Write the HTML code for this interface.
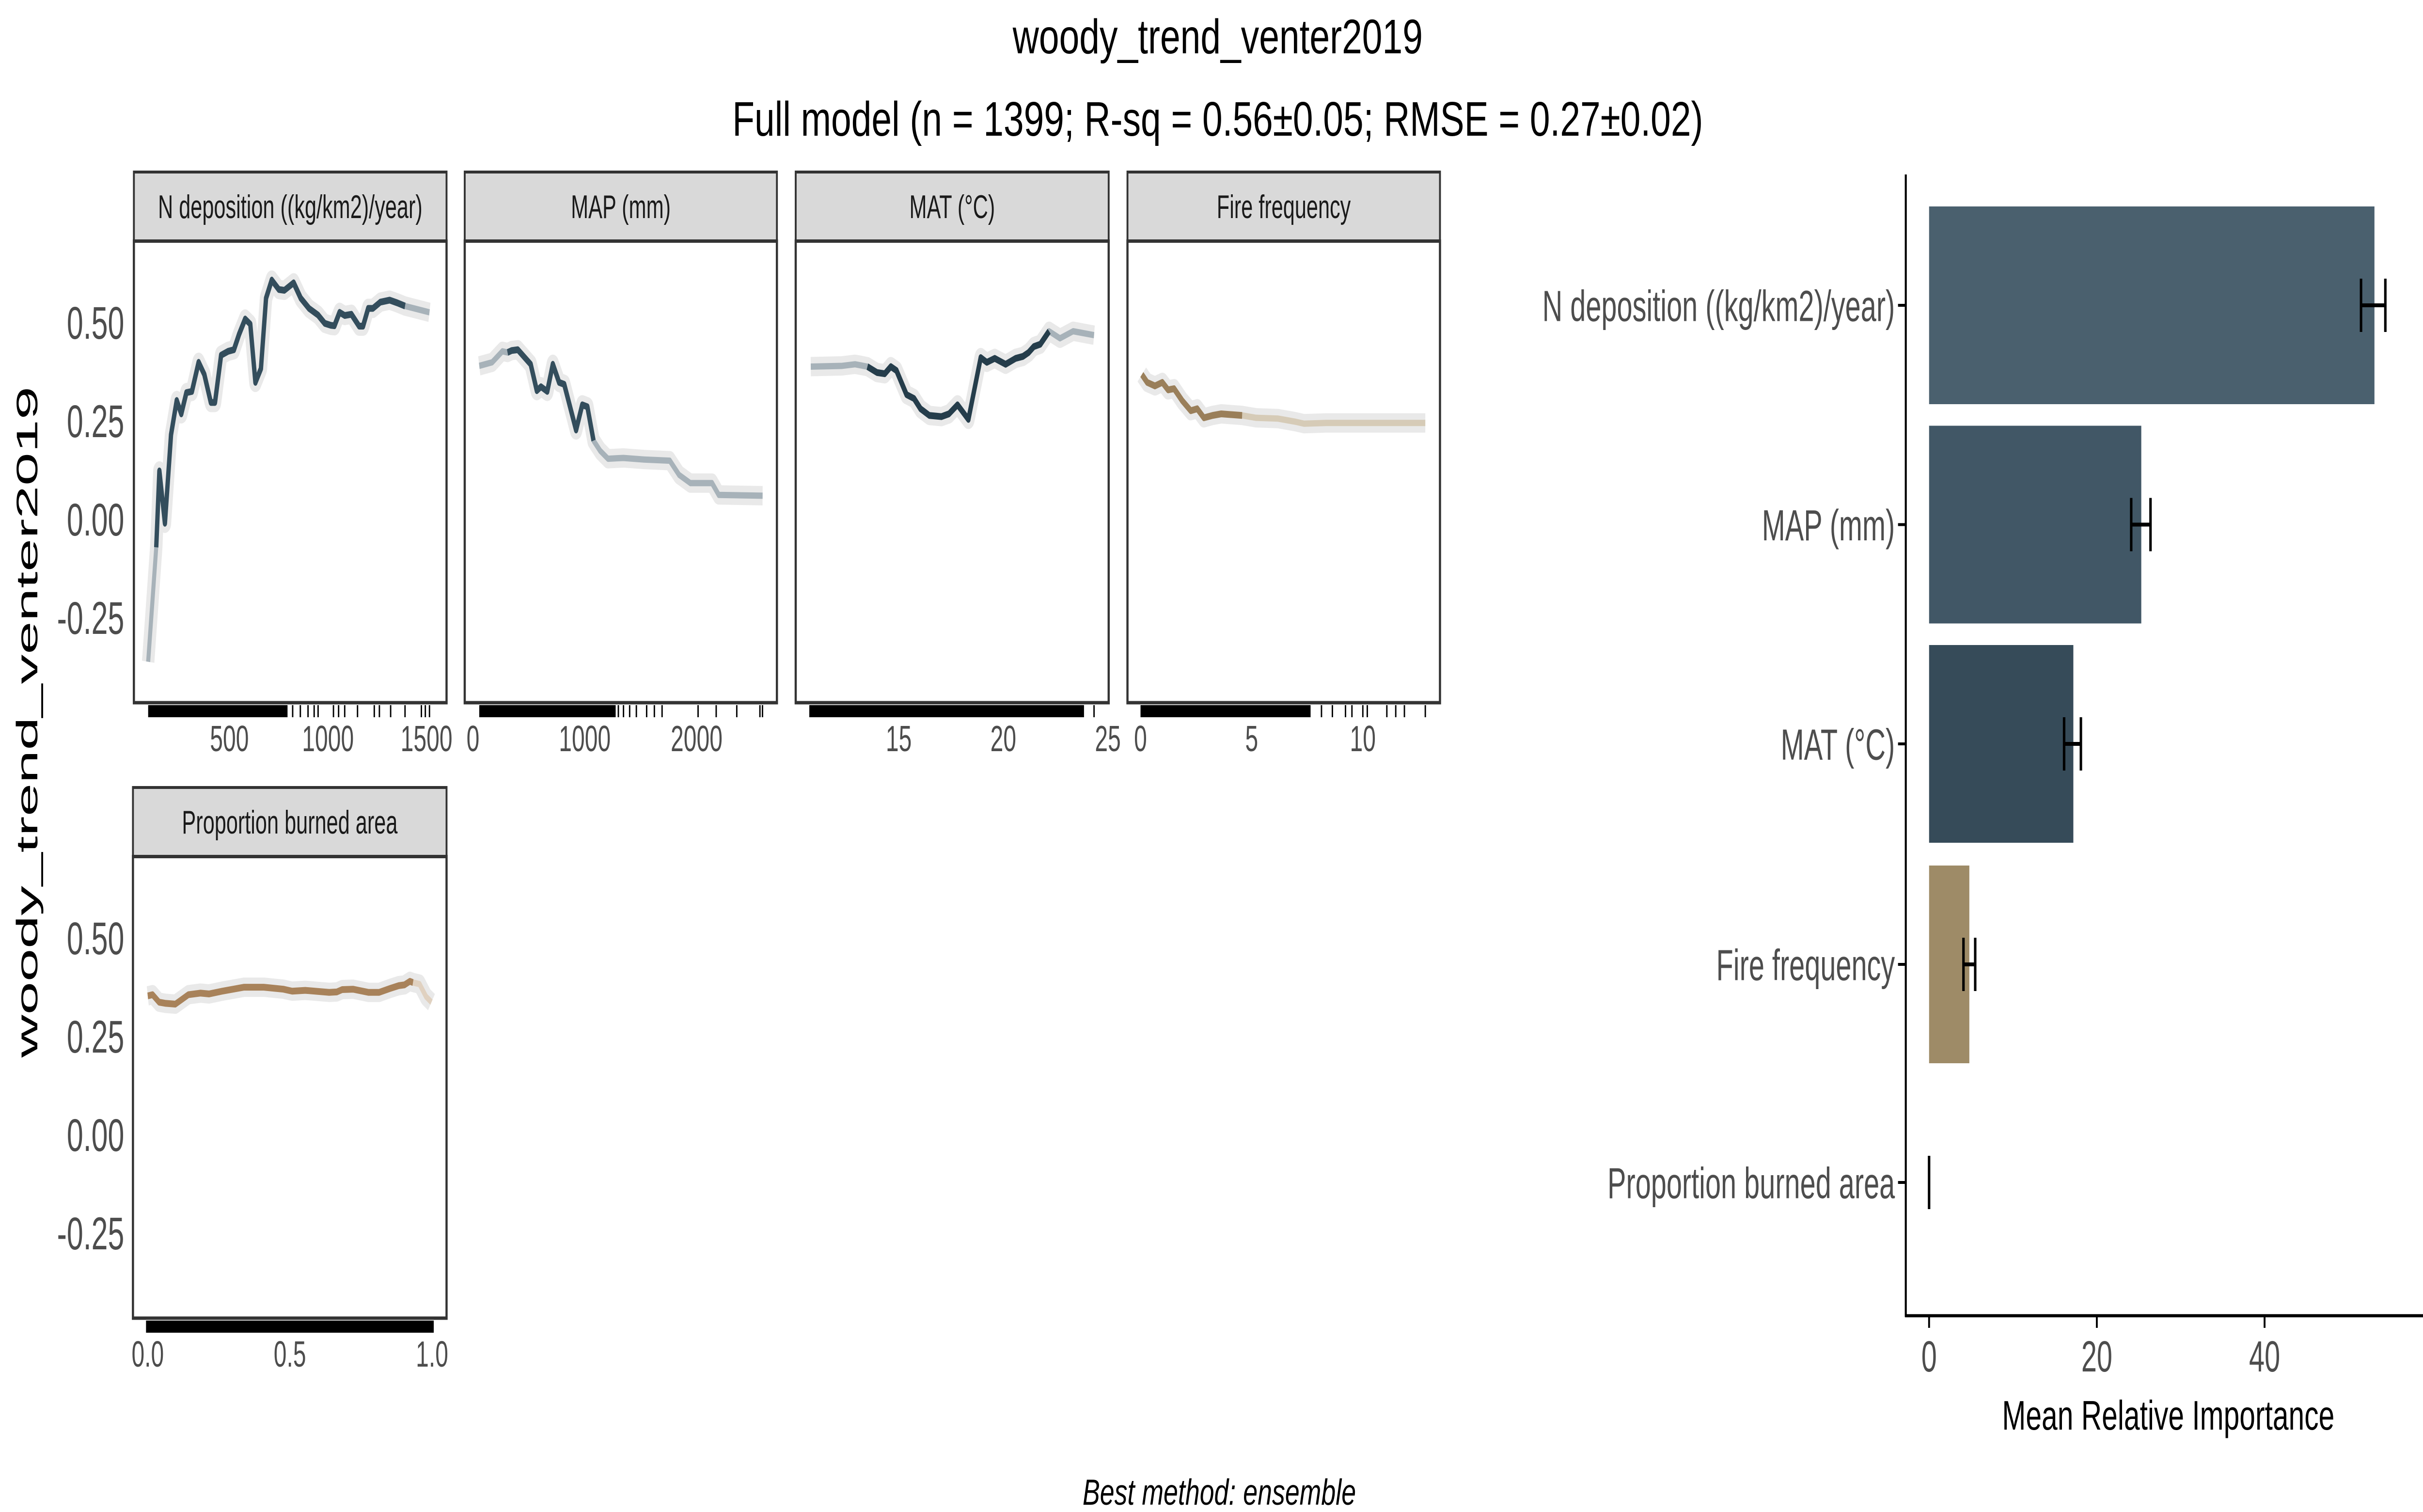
<!DOCTYPE html>
<html><head><meta charset="utf-8"><style>
html,body{margin:0;padding:0;background:#fff;width:100vw;height:100vh;overflow:hidden;}
svg{display:block;font-family:"Liberation Sans",sans-serif;position:absolute;left:0;top:0;width:100vw;height:100vh;}
</style></head><body>
<svg id="chart" viewBox="0 0 1560 624" preserveAspectRatio="none" xmlns="http://www.w3.org/2000/svg">
<rect width="1560" height="624" fill="#fff"/>
<text x="784" y="22" text-anchor="middle" font-size="20" fill="#000" textLength="264" lengthAdjust="spacingAndGlyphs">woody_trend_venter2019</text>
<text x="784" y="56" text-anchor="middle" font-size="20" fill="#000" textLength="625" lengthAdjust="spacingAndGlyphs">Full model (n = 1399; R-sq = 0.56±0.05; RMSE = 0.27±0.02)</text>
<text x="785" y="621" text-anchor="middle" font-size="15" font-style="italic" fill="#000" textLength="176" lengthAdjust="spacingAndGlyphs">Best method: ensemble</text>
<text transform="translate(24,298) rotate(-90)" text-anchor="middle" font-size="19" fill="#000" textLength="277" lengthAdjust="spacingAndGlyphs">woody_trend_venter2019</text>
<g id="panels"></g>
<g id="bars"></g>
</svg>
<script>
// ---- Partial dependence data ----
const p1x = [88,129,145,173,204,233,256,282,310,344,373,406,427,458,494,523,549,580,606,632,660,686,715,751,779,826,862,904,950,984,1015,1033,1059,1085,1119,1158,1178,1204,1228,1266,1313,1352,1391,1515];
const p1y = [-0.364,-0.073,0.121,-0.012,0.213,0.300,0.266,0.320,0.323,0.397,0.366,0.295,0.295,0.415,0.425,0.429,0.468,0.507,0.494,0.346,0.381,0.560,0.606,0.582,0.580,0.599,0.560,0.534,0.517,0.496,0.491,0.490,0.524,0.516,0.519,0.489,0.489,0.534,0.534,0.550,0.555,0.548,0.540,0.524];
const p2x = [56,171,263,309,346,401,516,571,608,664,714,770,816,922,977,1023,1078,1138,1207,1345,1530,1760,1843,1944,2138,2198,2590];
const p2y = [0.388,0.397,0.425,0.422,0.427,0.429,0.392,0.325,0.335,0.323,0.392,0.346,0.341,0.225,0.289,0.284,0.198,0.172,0.152,0.154,0.150,0.147,0.111,0.090,0.090,0.060,0.058];
const p3x = [10.79,12.29,12.91,13.50,13.96,14.33,14.62,14.89,15.37,15.73,16.04,16.46,17.04,17.40,17.81,18.33,18.92,19.21,19.59,20.11,20.59,20.94,21.21,21.46,21.77,22.19,22.71,23.34,24.34];
const p3y = [0.386,0.388,0.392,0.386,0.371,0.368,0.386,0.376,0.315,0.305,0.279,0.262,0.259,0.266,0.289,0.252,0.409,0.397,0.407,0.392,0.407,0.412,0.422,0.437,0.443,0.476,0.458,0.476,0.466];
const p4x = [0.06,0.30,0.65,0.98,1.24,1.51,1.87,2.26,2.55,2.85,3.24,3.63,4.57,5.20,6.18,6.97,7.36,8.34,12.81];
const p4y = [0.366,0.346,0.337,0.346,0.327,0.330,0.300,0.274,0.279,0.256,0.262,0.266,0.262,0.256,0.254,0.246,0.241,0.243,0.243];
const p5x = [0.0,0.017,0.040,0.063,0.097,0.143,0.185,0.216,0.262,0.339,0.408,0.477,0.508,0.554,0.638,0.665,0.684,0.722,0.776,0.814,0.853,0.883,0.903,0.922,0.933,0.956,0.979,0.998];
const p5y = [0.351,0.354,0.335,0.332,0.330,0.354,0.358,0.356,0.363,0.373,0.373,0.368,0.363,0.365,0.360,0.361,0.367,0.368,0.360,0.360,0.370,0.377,0.379,0.388,0.385,0.381,0.349,0.335];
const darkRanges = [[129,1391],[309,1078],[13.5,22.19],[0,4.57],[0,0.933]];
// rug data (dense ranges + single ticks)
const rugDense = [[[88,795]],[[56,1276]],[[10.72,23.86]],[[0,7.65]],[[-0.006,1.006]]];
const rugTicks = [[821,860,899,930,950,1028,1054,1085,1150,1235,1261,1318,1391,1474,1494,1515],
                  [1300,1346,1401,1461,1553,1622,1691,2013,2175,2359,2566,2589],
                  [24.34],
                  [8.14,8.63,9.22,9.51,10.0,10.2,11.08,11.48,11.87,12.81],
                  []];
const yTicks = [-0.25,0,0.25,0.5];
const yTickLabels = ["-0.25","0.00","0.25","0.50"];
const panelTitles = ["N deposition ((kg/km2)/year)","MAP (mm)","MAT (°C)","Fire frequency","Proportion burned area"];
const xTickVals = [[500,1000,1500],[0,1000,2000],[15,20,25],[0,5,10],[0,0.5,1.0]];
const xTickLabels = [["500","1000","1500"],["0","1000","2000"],["15","20","25"],["0","5","10"],["0.0","0.5","1.0"]];

// ---- Bar chart data ----
const barCats = ["N deposition ((kg/km2)/year)","MAP (mm)","MAT (°C)","Fire frequency","Proportion burned area"];
const barVals = [53.1,25.3,17.2,4.8,0];
const errLo = [51.5,24.1,16.1,4.1,0];
const errHi = [54.4,26.4,18.1,5.5,0];
const barTicks = [0,20,40];

const NS="http://www.w3.org/2000/svg";
function mk(tag,attrs,parent){const e=document.createElementNS(NS,tag);for(const k in attrs)e.setAttribute(k,attrs[k]);parent.appendChild(e);return e;}

const panelsG=document.getElementById('panels');
const boxes=[[86.2,287.5,71,0],[299.2,500.2,71,0],[512.3,713.8,71,0],[725.9,927.1,71,0],[85.6,287.5,325,254]];
const xDomains=[[15.6,1601.6],[-74,2718],[10.07,25.04],[-0.587,13.47],[-0.052,1.051]];
const colDark=["#334d5c","#334d5c","#253d4b","#9a7f5a","#a8825a"];
const colLight=["#a7b2b9","#a7b2b9","#a7b2b9","#d6cbb7","#e0d1c0"];
const data=[[p1x,p1y],[p2x,p2y],[p3x,p3y],[p4x,p4y],[p5x,p5y]];

for(let i=0;i<5;i++){
  const [L,R,top,off]=boxes[i];
  const xs=v=>L+(v-xDomains[i][0])/(xDomains[i][1]-xDomains[i][0])*(R-L);
  const ys=v=>214+off-162.4*v;
  const g=mk('g',{},panelsG);
  
  
  const strip=mk('rect',{x:L,y:top,width:R-L,height:28.5,fill:'#d9d9d9',stroke:'#333',"stroke-width":1.2},g);
  
  
  const st=mk('text',{x:(L+R)/2,y:top+19,"text-anchor":"middle","font-size":13.5,fill:'#1a1a1a'},g);
  st.textContent=panelTitles[i];
  
  
  const bottom=top+219;
  const box=mk('rect',{x:L,y:top+28.5,width:R-L,height:bottom-top-28.5,fill:'none',stroke:'#333',"stroke-width":1.4},g);
  
  
  const [dx,dy]=data[i];
  const ptsAll=dx.map((v,k)=>xs(v).toFixed(2)+','+ys(dy[k]).toFixed(2)).join(' ');
  const rib=mk('polyline',{points:ptsAll,fill:'none',stroke:'#e4e4e4',"stroke-width":8,"stroke-linejoin":"round","stroke-opacity":0.8},g);
  
  
  const lt=mk('polyline',{points:ptsAll,fill:'none',stroke:colLight[i],"stroke-width":2.6,"stroke-linejoin":"round"},g);
  
  
  const [a,b]=darkRanges[i];
  const ptsDark=dx.map((v,k)=>[v,dy[k]]).filter(p=>p[0]>=a&&p[0]<=b).map(p=>xs(p[0]).toFixed(2)+','+ys(p[1]).toFixed(2)).join(' ');
  const dk=mk('polyline',{points:ptsDark,fill:'none',stroke:colDark[i],"stroke-width":2.8,"stroke-linejoin":"round"},g);
  
  
  rugDense[i].forEach(r=>{
    const rr=mk('rect',{x:xs(r[0]),y:bottom+1,width:xs(r[1])-xs(r[0]),height:5,fill:'#000'},g);
    
    
  });
  rugTicks[i].forEach(v=>{
    const t=mk('line',{x1:xs(v),x2:xs(v),y1:bottom+1,y2:bottom+6,stroke:'#000',"stroke-width":0.9},g);
    
    
  });
  xTickVals[i].forEach((v,k)=>{
    const t=mk('text',{x:xs(v),y:bottom+20,"text-anchor":"middle","font-size":15,fill:'#4d4d4d'},g);
    t.textContent=xTickLabels[i][k];
    
    
  });
  if(L<100){
    yTicks.forEach((v,k)=>{
      const t=mk('text',{x:80,y:ys(v)+7,"text-anchor":"end","font-size":19,fill:'#4d4d4d'},g);
      t.textContent=yTickLabels[k];
      
      
    });
  }
}

// ---- bar chart ----
const barsG=document.getElementById('bars');
const bx=v=>1242+5.4*v;
const rowC=[126,216.5,307,398,488];
const barH=81.6;
const barCols=["#4a606e","#415766","#364b59","#9e8b67","#9e8b67"];
barCats.forEach((c,i)=>{
  const r=mk('rect',{x:bx(0),y:rowC[i]-barH/2,width:bx(barVals[i])-bx(0),height:barH,fill:barCols[i]},barsG);
  
  
  const e=mk('path',{d:`M${bx(errLo[i])},${rowC[i]-11}V${rowC[i]+11}M${bx(errHi[i])},${rowC[i]-11}V${rowC[i]+11}M${bx(errLo[i])},${rowC[i]}H${bx(errHi[i])}`,stroke:'#000',"stroke-width":1.6,fill:'none'},barsG);
  
  
  const tk=mk('line',{x1:1222,x2:1227,y1:rowC[i],y2:rowC[i],stroke:'#000',"stroke-width":1.2},barsG);
  
  
  const t=mk('text',{x:1220,y:rowC[i]+6.5,"text-anchor":"end","font-size":18,fill:'#4d4d4d'},barsG);
  t.textContent=c;
  
  
});
const yax=mk('line',{x1:1227,x2:1227,y1:72,y2:543.5,stroke:'#000',"stroke-width":1.3},barsG);


const xax=mk('line',{x1:1226.5,x2:1560,y1:543,y2:543,stroke:'#000',"stroke-width":1.3},barsG);


barTicks.forEach(v=>{
  const l=mk('line',{x1:bx(v),x2:bx(v),y1:543,y2:548,stroke:'#000',"stroke-width":1.2},barsG);
  
  
  const t=mk('text',{x:bx(v),y:566,"text-anchor":"middle","font-size":18,fill:'#4d4d4d'},barsG);
  t.textContent=String(v);
  
  
});
const xt=mk('text',{x:1396,y:590,"text-anchor":"middle","font-size":17,fill:'#000',textLength:214,lengthAdjust:"spacingAndGlyphs"},barsG);
xt.textContent="Mean Relative Importance";


</script>
</body></html>
